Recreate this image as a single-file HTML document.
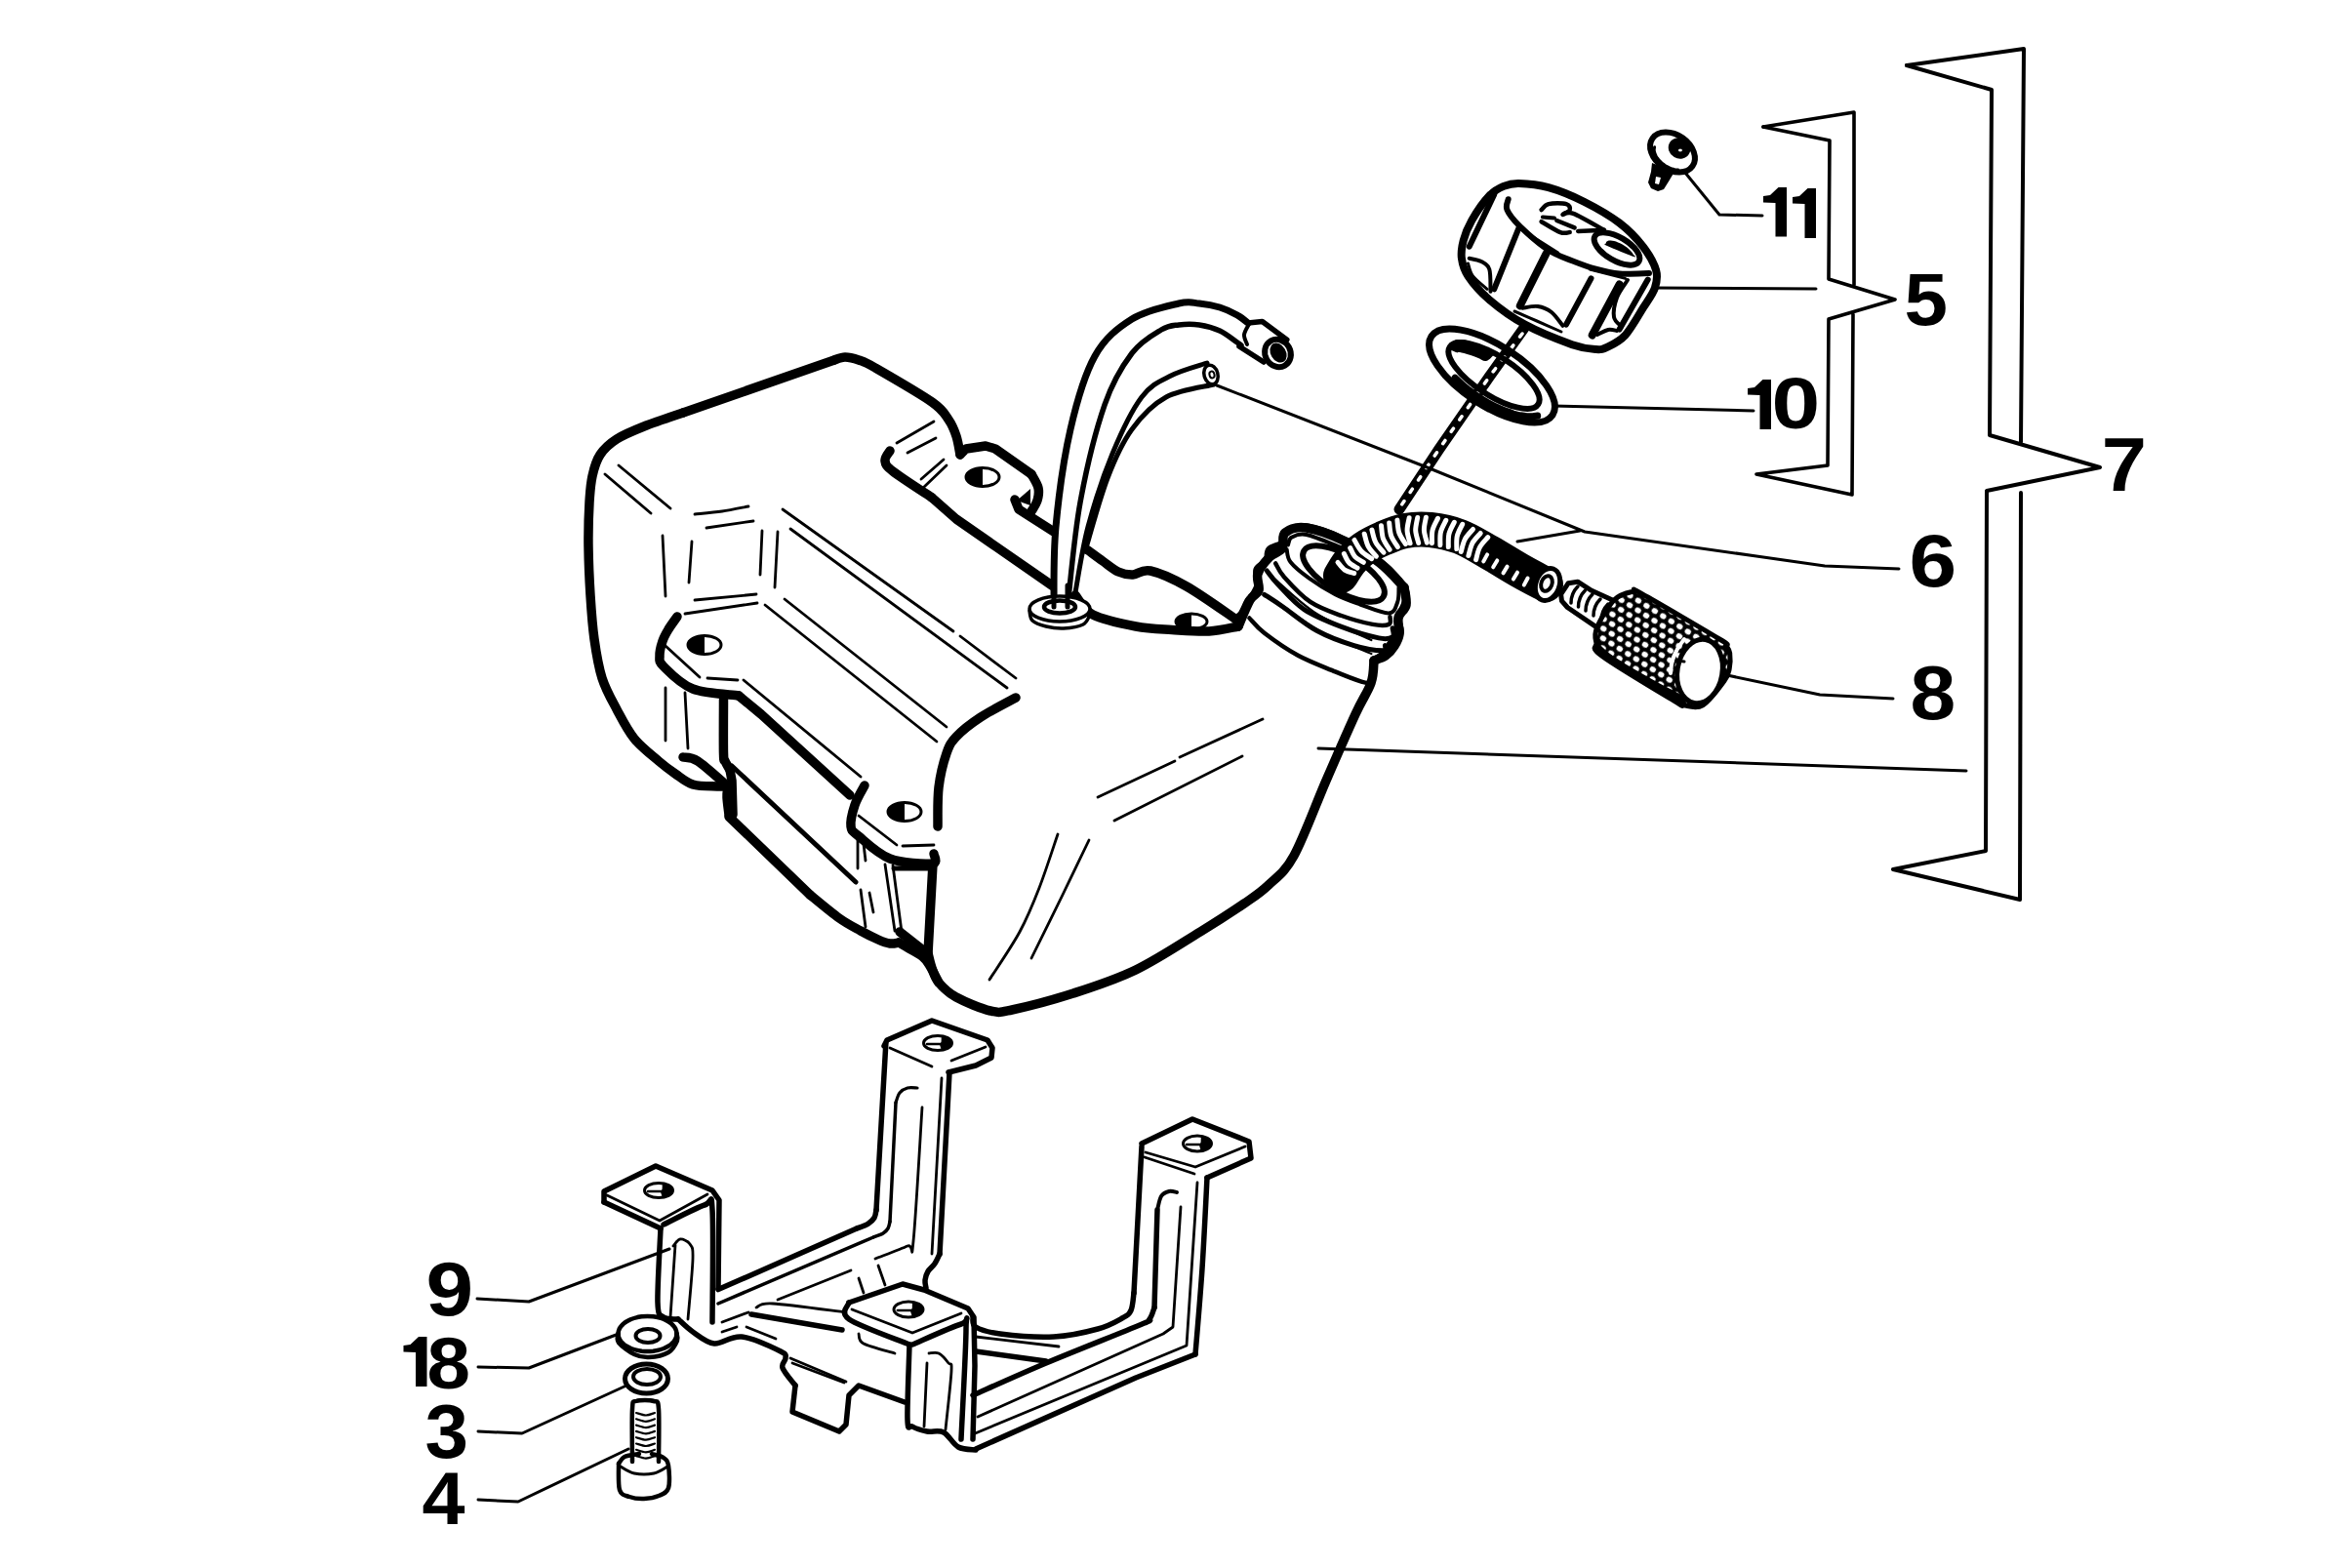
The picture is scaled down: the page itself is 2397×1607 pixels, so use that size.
<!DOCTYPE html>
<html><head><meta charset="utf-8"><style>
html,body{margin:0;padding:0;background:#fff;overflow:hidden}
svg{display:block}
text{font-family:"Liberation Sans",sans-serif;font-weight:bold}
</style></head><body>
<svg width="2397" height="1607" viewBox="0 0 2397 1607">
<defs>
<pattern id="knurl" width="10" height="17.3" patternUnits="userSpaceOnUse" patternTransform="rotate(32)">
<rect width="10" height="17.3" fill="#000"/><ellipse cx="5" cy="4.3" rx="3.3" ry="2.9" fill="#fff"/><ellipse cx="0" cy="13" rx="3.3" ry="2.9" fill="#fff"/><ellipse cx="10" cy="13" rx="3.3" ry="2.9" fill="#fff"/>
</pattern>
</defs>
<rect width="2397" height="1607" fill="#fff"/>
<g stroke="#000" stroke-linecap="round" stroke-linejoin="round" fill="none">
<path d="M746,806C744.2,806 741,806.3 735,806C729,805.7 717.2,806.2 710,804C702.8,801.8 697.8,797 692,793C686.2,789 682,786 675,780C668,774 657.2,765.8 650,757C642.8,748.2 637.5,737.3 632,727C626.5,716.7 620.8,707 617,695C613.2,683 611,669.2 609,655C607,640.8 606,625.8 605,610C604,594.2 603.2,575.8 603,560C602.8,544.2 603.3,527 604,515C604.7,503 605.2,496.2 607,488C608.8,479.8 610.8,472.3 615,466C619.2,459.7 624.5,454.8 632,450C639.5,445.2 648.7,441.5 660,437C671.3,432.5 693.3,425.3 700,423" stroke-width="9.5" fill="none"/>
<path d="M700,423 L855,369" stroke-width="9.5" fill="none"/>
<path d="M855,369C856.8,368.5 861.8,366 866,366C870.2,366 874.8,367.2 880,369C885.2,370.8 884.5,369.8 897,377C909.5,384.2 942.5,403.2 955,412C967.5,420.8 967.8,424.2 972,430C976.2,435.8 978,441 980,447C982,453 983.3,462.8 984,466" stroke-width="9.5" fill="none"/>
<path d="M984,466 L990,460 L1010,457 L1020,460 L1057,486" stroke-width="9.5" fill="none"/>
<path d="M1057,486C1058.2,488.3 1063,495.5 1064,500C1065,504.5 1064.2,509 1063,513C1061.8,517 1058,522.2 1057,524" stroke-width="9.5" fill="none"/>
<path d="M1056,501 L1042,513 L1056,518Z" stroke="none" fill="#000"/>
<path d="M1040,512 L1044,522 L1080,545" stroke-width="9.5" fill="none"/>
<path d="M912,462C911.2,463.7 906.5,468.5 907,472C907.5,475.5 907,476.7 915,483C923,489.3 948.3,505.5 955,510" stroke-width="9.5" fill="none"/>
<path d="M955,510 L980,532 L1078,600" stroke-width="9.5" fill="none"/>
<path d="M919,454 L957,432" stroke-width="2.8" fill="none"/>
<path d="M930,464 L959,449" stroke-width="2.8" fill="none"/>
<path d="M944,491 L967,471" stroke-width="2.8" fill="none"/>
<path d="M947,499 L970,477" stroke-width="2.8" fill="none"/>
<ellipse cx="1007" cy="489" rx="17" ry="9.5" stroke-width="3" fill="none"/>
<path d="M1007,498.5 L1002.6,498.2 L998.5,497.2 L995,495.7 L992.3,493.8 L990.6,491.5 L990,489 L990.6,486.5 L992.3,484.2 L995,482.3 L998.5,480.8 L1002.6,479.8 L1007,479.5Z" stroke="none" fill="#000"/>
<path d="M1115,564C1117.5,565.8 1124.8,571.3 1130,575C1135.2,578.7 1140.8,583.7 1146,586C1151.2,588.3 1155.5,589.2 1161,589C1166.5,588.8 1169.8,583 1179,585C1188.2,587 1201.3,592.7 1216,601C1230.7,609.3 1258.5,629.3 1267,635" stroke-width="9.5" fill="none"/>
<path d="M1102,610C1105,613.3 1109.7,624.7 1120,630C1130.3,635.3 1150.5,639.4 1164,642C1177.5,644.6 1188.5,644.7 1201,645.5C1213.5,646.3 1227.7,647.6 1239,647C1250.3,646.4 1264,642.8 1269,642" stroke-width="9.5" fill="none"/>
<ellipse cx="1221" cy="637" rx="16" ry="8" stroke-width="3" fill="none"/>
<path d="M1221,645 L1216.9,644.7 L1213,643.9 L1209.7,642.7 L1207.1,641 L1205.5,639.1 L1205,637 L1205.5,634.9 L1207.1,633 L1209.7,631.3 L1213,630.1 L1216.9,629.3 L1221,629Z" stroke="none" fill="#000"/>
<path d="M1269,642C1271,637.5 1277.5,621.2 1281,615C1284.5,608.8 1288.7,609.5 1290,605C1291.3,600.5 1287.2,593.7 1289,588C1290.8,582.3 1296.8,575.3 1301,571C1305.2,566.7 1311.3,566.2 1314,562C1316.7,557.8 1312.8,549.5 1317,546C1321.2,542.5 1328.7,539.5 1339,541C1349.3,542.5 1366.5,549 1379,555C1391.5,561 1404,569.2 1414,577C1424,584.8 1434.8,597.8 1439,602" stroke-width="9.5" fill="none"/>
<path d="M1439,602C1439.3,605 1442,614.8 1441,620C1440,625.2 1434.2,628 1433,633C1431.8,638 1434.7,645.2 1434,650C1433.3,654.8 1431.3,658.3 1429,662C1426.7,665.7 1423.5,669.5 1420,672C1416.5,674.5 1410,676.2 1408,677" stroke-width="9.5" fill="none"/>
<path d="M1408,677C1407.5,680.8 1408.2,690.8 1405,700C1401.8,709.2 1396.7,715.3 1389,732C1381.3,748.7 1369.5,775.8 1359,800C1348.5,824.2 1335.8,859.2 1326,877C1316.2,894.8 1308.5,898.8 1300,907C1291.5,915.2 1286.7,918 1275,926C1263.3,934 1248.5,943.7 1230,955C1211.5,966.3 1185.7,983.5 1164,994C1142.3,1004.5 1121.2,1011.2 1100,1018C1078.8,1024.8 1051.2,1032 1037,1035C1022.8,1038 1024.5,1038.2 1015,1036C1005.5,1033.8 988.8,1026.8 980,1022C971.2,1017.2 966.2,1012 962,1007C957.8,1002 956.8,997 955,992C953.2,987 951.7,979.5 951,977" stroke-width="9.5" fill="none"/>
<path d="M746,806C745.8,807.8 744.8,812.2 745,817C745.2,821.8 746.7,832 747,835" stroke-width="9.5" fill="none"/>
<path d="M700,776C702.5,776.7 707.3,775 715,780C722.7,785 740.8,801.7 746,806" stroke-width="9.5" fill="none"/>
<path d="M741.5,717C741.5,726.2 741.2,761.5 741.5,772C741.8,782.5 741.9,777.2 743,780C744.1,782.8 747.2,787.5 748,789" stroke-width="9.5" fill="none"/>
<path d="M748,789 L750,800 L751,835" stroke-width="9.5" fill="none"/>
<path d="M747,837 L830,917" stroke-width="9.5" fill="none"/>
<path d="M830,917C835,921 851.3,934.8 860,941C868.7,947.2 875.3,950.3 882,954C888.7,957.7 895,960.8 900,963C905,965.2 908.5,966.5 912,967C915.5,967.5 919.5,966.2 921,966" stroke-width="9.5" fill="none"/>
<path d="M921,966C922.2,966.7 924,967.7 928,970C932,972.3 940.8,976.7 945,980C949.2,983.3 950.2,985.5 953,990C955.8,994.5 960.5,1004.2 962,1007" stroke-width="9.5" fill="none"/>
<path d="M694,632C692.5,634.2 687.5,640.8 685,645C682.5,649.2 680.5,652.5 679,657C677.5,661.5 675.8,667.7 676,672C676.2,676.3 674.3,677.3 680,683C685.7,688.7 697.2,701 710,706C722.8,711 749.2,711.8 757,713" stroke-width="9.5" fill="none"/>
<path d="M757,713 L780,732 L871,815" stroke-width="9.5" fill="none"/>
<path d="M750,785 L877,904" stroke-width="5" fill="none"/>
<path d="M886,805C884.3,808.3 878.3,818 876,825C873.7,832 871.3,841.7 872,847C872.7,852.3 873.3,851.5 880,857C886.7,862.5 899.5,875.3 912,880C924.5,884.7 947.5,885.8 955,885C962.5,884.2 956.7,876.7 957,875" stroke-width="9.5" fill="none"/>
<path d="M880,836 L919,866" stroke-width="2.8" fill="none"/>
<path d="M925,867 L957,866" stroke-width="2.8" fill="none"/>
<ellipse cx="927" cy="832" rx="17" ry="9.5" stroke-width="3" fill="none"/>
<path d="M927,841.5 L922.6,841.2 L918.5,840.2 L915,838.7 L912.3,836.8 L910.6,834.5 L910,832 L910.6,829.5 L912.3,827.2 L915,825.3 L918.5,823.8 L922.6,822.8 L927,822.5Z" stroke="none" fill="#000"/>
<path d="M956,885 L951,977" stroke-width="9.5" fill="none"/>
<path d="M922,955 L950,977" stroke-width="9.5" fill="none"/>
<path d="M916,890 L955,890" stroke-width="5" fill="none"/>
<path d="M907,886 L917,954" stroke-width="2.8" fill="none"/>
<path d="M915,887 L924,955" stroke-width="2.8" fill="none"/>
<path d="M879,860 L879,890" stroke-width="2.8" fill="none"/>
<path d="M885,865 L887,882" stroke-width="2.8" fill="none"/>
<path d="M882,912 L887,950" stroke-width="2.8" fill="none"/>
<path d="M891,915 L895,935" stroke-width="2.8" fill="none"/>
<path d="M1041,715C1035,718.3 1015.2,728.3 1005,735C994.8,741.7 985.8,748.8 980,755C974.2,761.2 973,763.3 970,772C967,780.7 963.5,794.5 962,807C960.5,819.5 961.2,840.3 961,847" stroke-width="9.5" fill="none"/>
<path d="M802,522 L977,647" stroke-width="2.8" fill="none"/>
<path d="M984,652 L1041,695" stroke-width="2.8" fill="none"/>
<path d="M810,542 L1032,705" stroke-width="2.8" fill="none"/>
<path d="M784,620 L960,760" stroke-width="2.8" fill="none"/>
<path d="M804,614 L970,745" stroke-width="2.8" fill="none"/>
<path d="M762,697 L882,796" stroke-width="2.8" fill="none"/>
<path d="M620,486 L667,526" stroke-width="2.8" fill="none"/>
<path d="M634,477 L687,521" stroke-width="2.8" fill="none"/>
<path d="M712,527C716.7,526.5 730.8,525.3 740,524C749.2,522.7 762.5,519.8 767,519" stroke-width="2.8" fill="none"/>
<path d="M724,541 L772,534" stroke-width="2.8" fill="none"/>
<path d="M679,549 L682,611" stroke-width="2.8" fill="none"/>
<path d="M709,555 L706,597" stroke-width="2.8" fill="none"/>
<path d="M781,544 L779,589" stroke-width="2.8" fill="none"/>
<path d="M797,545 L794,602" stroke-width="2.8" fill="none"/>
<path d="M712,615 L775,609" stroke-width="2.8" fill="none"/>
<path d="M702,629 L776,618" stroke-width="2.8" fill="none"/>
<path d="M682,662 L717,694" stroke-width="2.8" fill="none"/>
<path d="M725,695 L756,697" stroke-width="2.8" fill="none"/>
<ellipse cx="722" cy="661" rx="17" ry="9.5" stroke-width="3" fill="none"/>
<path d="M722,670.5 L717.6,670.2 L713.5,669.2 L710,667.7 L707.3,665.8 L705.6,663.5 L705,661 L705.6,658.5 L707.3,656.2 L710,654.3 L713.5,652.8 L717.6,651.8 L722,651.5Z" stroke="none" fill="#000"/>
<path d="M682,705 L682,759" stroke-width="2.8" fill="none"/>
<path d="M702,710 L705,767" stroke-width="2.8" fill="none"/>
<path d="M1125,817 L1204,780" stroke-width="2.8" fill="none"/>
<path d="M1209,776 L1294,737" stroke-width="2.8" fill="none"/>
<path d="M1142,841 L1273,775" stroke-width="2.8" fill="none"/>
<path d="M1084,855C1080.8,864.2 1071.5,893.3 1065,910C1058.5,926.7 1053.5,939.3 1045,955C1036.5,970.7 1019.2,995.8 1014,1004" stroke-width="2.8" fill="none"/>
<path d="M1116,861C1111.7,870 1099.8,894.8 1090,915C1080.2,935.2 1062.5,970.8 1057,982" stroke-width="2.8" fill="none"/>
<path d="M1080,622C1080.3,608.3 1079.2,570.3 1082,540C1084.8,509.7 1090.3,469.2 1097,440C1103.7,410.8 1111.5,383.8 1122,365C1132.5,346.2 1145.7,336 1160,327C1174.3,318 1196.5,313.7 1208,311C1219.5,308.3 1222,310.3 1229,311C1236,311.7 1243.5,313 1250,315C1256.5,317 1263.2,320.3 1268,323C1272.8,325.7 1277.2,329.7 1279,331" stroke-width="7" fill="none"/>
<path d="M1094,622C1096.2,604.2 1100.7,549.5 1107,515C1113.3,480.5 1123.2,440.5 1132,415C1140.8,389.5 1150.3,374.8 1160,362C1169.7,349.2 1182,342.8 1190,338C1198,333.2 1201.5,333.8 1208,333C1214.5,332.2 1222,332 1229,333C1236,334 1243.5,336 1250,339C1256.5,342 1264.3,348.5 1268,351C1271.7,353.5 1271.3,353.5 1272,354" stroke-width="5.5" fill="none"/>
<path d="M1279,331 L1293.6,329.5 L1318.8,348.2" stroke-width="5.5" fill="none"/>
<path d="M1270,355 L1295,371" stroke-width="5.5" fill="none"/>
<path d="M1280,332C1279.2,333.8 1275.3,339.5 1275,343C1274.7,346.5 1277.5,351.3 1278,353" stroke-width="4" fill="none"/>
<ellipse cx="1309.5" cy="362" rx="13" ry="14.5" transform="rotate(-30 1309.5 362)" stroke-width="6" fill="#fff"/>
<ellipse cx="1310" cy="361.5" rx="7" ry="10" transform="rotate(-30 1310 361.5)" stroke-width="1.5" fill="#000"/>
<path d="M1102,607C1104.2,595.8 1108.7,563.7 1115,540C1121.3,516.3 1130.8,487.2 1140,465C1149.2,442.8 1160,420.3 1170,407C1180,393.7 1188.8,390.8 1200,385C1211.2,379.2 1230.8,374.2 1237,372" stroke-width="5" fill="none"/>
<path d="M1112,565C1115.8,552.5 1127,510.8 1135,490C1143,469.2 1150,453.8 1160,440C1170,426.2 1181,414.7 1195,407C1209,399.3 1235.8,396.2 1244,394" stroke-width="5" fill="none"/>
<ellipse cx="1241" cy="384" rx="7" ry="10" transform="rotate(-15 1241 384)" stroke-width="3.5" fill="#fff"/>
<ellipse cx="1242" cy="384" rx="2.5" ry="3.5" transform="rotate(-15 1242 384)" stroke-width="2" fill="none"/>
<path d="M1055,626C1055.5,627.7 1055.2,633.3 1058,636C1060.8,638.7 1066.7,640.7 1072,642C1077.3,643.3 1083.7,644.3 1090,644C1096.3,643.7 1105.5,642.3 1110,640C1114.5,637.7 1115.8,631.7 1117,630" stroke-width="3.5" fill="none"/>
<ellipse cx="1086" cy="624" rx="31" ry="13" stroke-width="3.5" fill="#fff"/>
<ellipse cx="1086" cy="622" rx="16" ry="6.5" stroke-width="4.5" fill="#fff"/>
<path d="M1080,600 L1080,622" stroke-width="5" fill="none"/>
<path d="M1094,600 L1094,622" stroke-width="5" fill="none"/>
<path d="M1267.7,633.5C1268.5,632.6 1270.9,631.4 1272.8,628.4C1274.7,625.4 1277.4,618.5 1279.1,615.7C1280.8,612.9 1281.3,614.6 1283,611.8C1284.7,609 1288.5,603.8 1289.3,599.1C1290.1,594.4 1286.6,587.8 1288.1,583.8C1289.6,579.8 1296.2,578.2 1298.3,574.8C1300.4,571.4 1298.2,566.4 1300.8,563.4C1303.3,560.4 1311.3,559.4 1313.6,557C1315.9,554.6 1313.5,551.6 1314.8,549.3C1316.1,547 1318.7,544.5 1321.2,543C1323.7,541.5 1326.6,540.8 1330,540.4C1333.4,540 1335.8,539.2 1341.6,540.4C1347.4,541.6 1357.9,544.8 1364.6,547.4C1371.3,550 1379.1,554.6 1382,556" stroke-width="7.5" fill="none"/>
<path d="M1412,574C1414.3,576 1421.4,581.4 1425.8,586C1430.2,590.6 1436,596.9 1438.6,601.6C1441.1,606.3 1441.9,608.9 1441.1,614.4C1440.2,619.9 1434.5,629.1 1433.5,634.8C1432.5,640.5 1436.3,644.5 1434.8,648.8C1433.3,653 1426.4,657.3 1424.5,660.3C1422.6,663.3 1426,663.9 1423.3,666.7C1420.5,669.5 1410.5,675.2 1408,676.9" stroke-width="7.5" fill="none"/>
<path d="M1318.7,563.4C1319.3,565.5 1318.7,571.2 1322.5,576.1C1326.3,581 1333.9,587.2 1341.6,592.7C1349.2,598.2 1359.7,604.8 1368.4,609.3C1377.1,613.8 1384.8,616.3 1393.9,619.5C1403.1,622.7 1416.9,628.8 1423.3,628.4C1429.7,628 1430.5,621.4 1432.2,617C1433.9,612.6 1433.3,604.5 1433.5,602" stroke-width="4" fill="none"/>
<path d="M1320,558.3C1320.6,557 1320.6,552.3 1323.8,550.6C1327,548.9 1330.7,546.3 1339,548C1347.3,549.7 1367.8,558.7 1373.5,560.8" stroke-width="4" fill="none"/>
<path d="M1307.2,577.4C1308.7,579.7 1310.1,584.8 1316.1,591.4C1322,598 1333.1,610.3 1342.9,616.9C1352.7,623.5 1364.2,627.2 1374.8,631C1385.4,634.8 1398.6,638.4 1406.7,639.9C1414.8,641.4 1420.3,641.2 1423.3,639.9C1426.3,638.6 1424.3,633.5 1424.5,632.2" stroke-width="4.5" fill="none"/>
<path d="M1298.3,585C1300.2,587.3 1303.3,592.4 1309.7,599C1316.1,605.6 1325.7,617.4 1336.5,624.6C1347.3,631.8 1362,637.5 1374.8,642.4C1387.5,647.3 1404.3,652.2 1413,653.9C1421.7,655.6 1424.8,654.4 1427.1,652.7C1429.4,651 1427.1,645.2 1427.1,643.7" stroke-width="5" fill="none"/>
<path d="M1306,593C1313.2,599 1332.7,618.5 1349.3,629C1365.9,639.5 1396.1,651.5 1405.4,656" stroke-width="2.2" fill="none"/>
<path d="M1295.7,609.3C1298.9,611.4 1305.9,615.8 1314.8,622C1323.7,628.2 1337.2,639.7 1349.3,646.3C1361.4,652.9 1376.3,658.2 1387.6,661.6C1398.9,665 1411.6,666.7 1416.9,666.7C1422.2,666.7 1419,662.5 1419.4,661.6" stroke-width="5" fill="none"/>
<path d="M1311,619C1318.3,623.8 1339.3,639.5 1355,648C1370.7,656.5 1397,666.3 1405.4,670" stroke-width="2.2" fill="none"/>
<path d="M1280.4,633.5C1283,636 1287.4,642.4 1295.7,648.8C1304,655.2 1318.1,665.2 1330.2,671.8C1342.3,678.4 1357.6,683.9 1368.4,688.4C1379.2,692.9 1389.3,696.7 1395.2,698.6C1401.1,700.5 1402.5,699.8 1404,700" stroke-width="4.5" fill="none"/>
<ellipse cx="1377" cy="588" rx="47" ry="19" transform="rotate(30 1377 588)" stroke-width="6" fill="none"/>
<path d="M1374,590C1375.7,587.5 1380,579.7 1384,575C1388,570.3 1392.5,565.8 1398,562C1403.5,558.2 1410,555 1417,552C1424,549 1431.8,545.5 1440,544C1448.2,542.5 1456.7,542 1466,543C1475.3,544 1486,546.2 1496,550C1506,553.8 1515.7,560.2 1526,566C1536.3,571.8 1548.3,579.5 1558,585C1567.7,590.5 1579.7,596.7 1584,599" stroke-width="36" stroke-linecap="round" fill="none"/>
<path d="M1387.7,587.5C1386,587 1380.7,585.9 1378,584.1C1375.2,582.2 1372.2,577.7 1371,576.4" stroke="#fff" stroke-width="5" stroke-linecap="round" fill="none"/>
<path d="M1391,582.2C1389.5,581.2 1384.6,579 1382.4,576.5C1380.1,574.1 1378.2,569 1377.4,567.5" stroke="#fff" stroke-width="5" stroke-linecap="round" fill="none"/>
<path d="M1397.3,576.3C1395.9,575.3 1391,573.1 1388.7,570.6C1386.4,568.2 1384.6,563.1 1383.7,561.6" stroke="#fff" stroke-width="5" stroke-linecap="round" fill="none"/>
<path d="M1405.7,572.6C1403.9,571.3 1398,567.9 1395,564.7C1392.1,561.6 1389.2,555.4 1388,553.5" stroke="#fff" stroke-width="5" stroke-linecap="round" fill="none"/>
<path d="M1410.4,570.2C1409,568.5 1404.1,563.7 1402.1,559.8C1400.1,556 1398.9,549.3 1398.2,547.2" stroke="#fff" stroke-width="5" stroke-linecap="round" fill="none"/>
<path d="M1418,566.2C1416.6,564.4 1411.8,559.6 1409.8,555.8C1407.7,552 1406.6,545.3 1405.9,543.1" stroke="#fff" stroke-width="5" stroke-linecap="round" fill="none"/>
<path d="M1424.1,563.3C1423,561.4 1418.9,555.9 1417.4,551.8C1416,547.8 1415.9,540.9 1415.5,538.7" stroke="#fff" stroke-width="5" stroke-linecap="round" fill="none"/>
<path d="M1432.3,560.5C1431.1,558.5 1427,553.1 1425.6,549C1424.2,544.9 1424,538.1 1423.7,535.9" stroke="#fff" stroke-width="5" stroke-linecap="round" fill="none"/>
<path d="M1440.4,557.6C1439.3,555.7 1435.2,550.2 1433.8,546.2C1432.4,542.1 1432.2,535.2 1431.9,533.1" stroke="#fff" stroke-width="5" stroke-linecap="round" fill="none"/>
<path d="M1445.1,556.8C1444.6,554.7 1442.3,548.2 1442.1,543.9C1441.9,539.6 1443.8,533 1444.1,530.8" stroke="#fff" stroke-width="5" stroke-linecap="round" fill="none"/>
<path d="M1453.7,556.5C1453.2,554.3 1450.9,547.9 1450.7,543.6C1450.6,539.3 1452.4,532.7 1452.7,530.5" stroke="#fff" stroke-width="5" stroke-linecap="round" fill="none"/>
<path d="M1462.4,556.1C1461.9,554 1459.6,547.6 1459.4,543.3C1459.2,538.9 1461.1,532.3 1461.4,530.2" stroke="#fff" stroke-width="5" stroke-linecap="round" fill="none"/>
<path d="M1467.5,556.7C1467.6,554.5 1467,547.7 1468,543.5C1469,539.2 1472.5,533.4 1473.4,531.4" stroke="#fff" stroke-width="5" stroke-linecap="round" fill="none"/>
<path d="M1475.9,558.7C1476,556.5 1475.4,549.7 1476.4,545.4C1477.4,541.2 1480.9,535.4 1481.8,533.3" stroke="#fff" stroke-width="5" stroke-linecap="round" fill="none"/>
<path d="M1484.3,560.6C1484.4,558.4 1483.9,551.6 1484.9,547.4C1485.8,543.2 1489.4,537.3 1490.3,535.3" stroke="#fff" stroke-width="5" stroke-linecap="round" fill="none"/>
<path d="M1492.8,562.6C1492.9,560.4 1492.3,553.6 1493.3,549.4C1494.3,545.1 1497.8,539.3 1498.7,537.3" stroke="#fff" stroke-width="5" stroke-linecap="round" fill="none"/>
<path d="M1497.3,565.4C1497.9,563.3 1499.2,556.6 1501.2,552.8C1503.2,548.9 1508.1,544.2 1509.5,542.5" stroke="#fff" stroke-width="5" stroke-linecap="round" fill="none"/>
<path d="M1504.9,569.5C1505.6,567.4 1506.8,560.7 1508.8,556.8C1510.9,553 1515.8,548.3 1517.2,546.5" stroke="#fff" stroke-width="5" stroke-linecap="round" fill="none"/>
<path d="M1512.6,573.6C1513.2,571.5 1514.4,564.7 1516.5,560.9C1518.5,557.1 1523.4,552.3 1524.8,550.6" stroke="#fff" stroke-width="5" stroke-linecap="round" fill="none"/>
<path d="M1520.3,575.4 L1524.1,568.4" stroke="#fff" stroke-width="4" fill="none"/>
<path d="M1530.2,581.3 L1534.3,574.4" stroke="#fff" stroke-width="4" fill="none"/>
<path d="M1540.5,587.4 L1544.6,580.6" stroke="#fff" stroke-width="4" fill="none"/>
<path d="M1550.9,593.6 L1555.0,586.7" stroke="#fff" stroke-width="4" fill="none"/>
<path d="M1561.8,599.6 L1565.6,592.5" stroke="#fff" stroke-width="4" fill="none"/>
<ellipse cx="1586" cy="599" rx="17" ry="12" transform="rotate(110 1586 599)" stroke-width="5" fill="#fff"/>
<ellipse cx="1585" cy="598" rx="8" ry="5.5" transform="rotate(110 1585 598)" stroke-width="4" fill="none"/>
<path d="M1562,336 L1527,385 L1475,460 L1434,522" stroke-width="11" fill="none"/>
<path d="M1560,342 L1527,385 L1475,460 L1436,518" stroke="#fff" stroke-width="3.5" stroke-dasharray="4 11" fill="none"/>
<path d="M1599.6,609.1 L1607.2,597.7 L1616.8,596.2 L1631.1,605.3 L1653.1,615.3 L1654,640 L1635.9,642.6 L1606.3,622.5 L1600.5,615.8Z" fill="#fff" stroke-width="5"/>
<path d="M1617,601 Q1610,608 1610,618" stroke-width="3.5" fill="none"/>
<path d="M1624.5,605 Q1617.5,612 1617.5,622" stroke-width="3.5" fill="none"/>
<path d="M1632,609 Q1625,616 1625,626" stroke-width="3.5" fill="none"/>
<path d="M1640,614 Q1633,621 1633,631" stroke-width="3.5" fill="none"/>
<path d="M1648,619 Q1641,626 1641,636" stroke-width="3.5" fill="none"/>
<path d="M1654.1,614.9C1660.2,608.7 1668.4,607.3 1673.2,606.3C1678,605.3 1668,600.6 1682.8,608.7C1697.6,616.8 1747.8,646.2 1762.2,655C1776.6,663.8 1767.2,659.3 1768.9,661.7C1770.7,664.1 1772.2,665.4 1772.7,669.4C1773.2,673.4 1773.2,680.8 1772.2,685.6C1771.2,690.4 1771.4,691.9 1766.9,698.1C1762.4,704.3 1751.8,718.8 1745,722.9C1738.2,727 1730.8,723.7 1725.8,722.9C1720.8,722.1 1729.3,726.6 1715.3,718.2C1701.3,709.8 1654.8,682.2 1641.6,672.3C1628.4,662.4 1636.8,663.7 1635.9,658.9C1635,654.1 1633.4,650.9 1636.4,643.6C1639.4,636.3 1648,621.1 1654.1,614.9Z" fill="url(#knurl)" stroke-width="5"/>
<path d="M1641.6,672.3C1654.5,682 1700.9,709.9 1715.3,718.2C1729.7,726.5 1726.9,723 1728,722C1729.1,721 1726.7,715.7 1722,712C1717.3,708.3 1708.7,704.8 1700,700C1691.3,695.2 1678.3,688 1670,683C1661.7,678 1655.3,673.8 1650,670C1644.7,666.2 1639.4,659.6 1638,660C1636.6,660.4 1628.7,662.6 1641.6,672.3Z" stroke="none" fill="#000"/>
<path d="M1726,655 Q1712,672 1712,690" stroke="#fff" stroke-width="4" fill="none"/>
<ellipse cx="1742" cy="688" rx="33" ry="23" transform="rotate(100 1742 688)" stroke-width="5" fill="#fff"/>
<path d="M1718,677 L1726,678" stroke-width="3" fill="none"/>
<ellipse cx="1529" cy="385" rx="74" ry="31" transform="rotate(33 1529 385)" stroke-width="7" fill="none"/>
<ellipse cx="1531" cy="385" rx="54" ry="20" transform="rotate(33 1531 385)" stroke-width="6" fill="none"/>
<path d="M1485,356C1484.9,353.9 1488.1,349.7 1491.4,348.6C1494.7,347.5 1499.6,348.3 1504.8,349.5C1510,350.7 1518.3,353.6 1522.7,355.7C1527.1,357.8 1531,359.6 1531,362C1531,364.4 1525.9,369.3 1523,370C1520.1,370.7 1517.6,367.7 1513.8,366.4C1510,365.1 1504,362.9 1500.4,362C1496.8,361.1 1494.6,362 1492,361C1489.4,360 1485.1,358.1 1485,356Z" stroke="none" fill="#000"/>
<path d="M1575.7,426.1C1574.8,426.2 1572.5,426.7 1570.7,426.8C1568.8,426.9 1566.8,426.9 1564.8,426.7C1562.7,426.6 1560.4,426.2 1558.1,425.8C1555.8,425.3 1553.4,424.7 1550.9,424C1548.4,423.2 1545.9,422.4 1543.2,421.4C1540.6,420.4 1538,419.2 1535.3,418C1532.6,416.8 1529.9,415.4 1527.3,414C1524.6,412.6 1521.9,411 1519.3,409.4C1516.6,407.8 1514,406 1511.5,404.3C1509,402.5 1506.5,400.6 1504.1,398.8C1501.7,396.9 1499.4,395 1497.3,393C1495.1,391.1 1492.2,388.1 1491.1,387.1" stroke-width="7" fill="none"/>
<path d="M1556.6,187.9C1564.3,188.1 1575.8,189 1586.9,192.1C1598,195.2 1611.2,200.6 1623.3,206.7C1635.4,212.8 1649.5,220.8 1659.6,228.5C1669.7,236.2 1677.5,244.6 1683.8,252.7C1690,260.8 1695.1,269.8 1697.1,276.9C1699.1,284 1698.1,288.6 1695.9,295.1C1693.7,301.6 1688.8,307.6 1683.8,315.7C1678.8,323.8 1671.6,336.9 1665.6,343.5C1659.5,350.1 1652.5,353.2 1647.5,355.6C1642.5,358 1641.5,358.5 1635.4,358.1C1629.3,357.7 1623.2,357.4 1611.1,353.2C1599,348.9 1576.8,340.3 1562.7,332.6C1548.6,324.9 1536,315.5 1526.3,307.2C1516.6,298.9 1509.2,290.1 1504.5,283C1499.8,275.9 1498.7,270.9 1497.9,264.8C1497.1,258.7 1498,253.1 1499.7,246.6C1501.4,240.1 1503.8,233.7 1508.2,226C1512.6,218.3 1520.8,206.4 1526.3,200.6C1531.8,194.8 1535.9,193 1540.9,190.9C1546,188.8 1548.9,187.7 1556.6,187.9Z" stroke-width="8" fill="none"/>
<path d="M1545.7,204.2C1545.5,206 1542.5,210.4 1544.5,215.1C1546.5,219.8 1550.7,225.2 1557.8,232.1C1564.9,239 1578,250.5 1586.9,256.3C1595.8,262.2 1603,264 1611.1,267.2C1619.2,270.4 1627.3,273.5 1635.4,275.7C1643.5,277.9 1650.5,279.8 1659.6,280.5C1668.7,281.2 1684.9,280.1 1690,280" stroke-width="6" fill="none"/>
<path d="M1531.2,199.4 L1505.7,252.7" stroke-width="6" fill="none"/>
<path d="M1556.6,233.3 L1531.2,296.3" stroke-width="6" fill="none"/>
<path d="M1584.5,260 L1557.8,313.3" stroke-width="8" fill="none"/>
<path d="M1630.5,285.4 L1605,332.6" stroke-width="6" fill="none"/>
<path d="M1659.6,291.5 L1631.7,343.5" stroke-width="8" fill="none"/>
<path d="M1688.7,286.6 L1659.6,337.5" stroke-width="6" fill="none"/>
<path d="M1560.3,236 L1596.6,259" stroke-width="3" fill="none"/>
<path d="M1629.3,276 L1665.6,285.4" stroke-width="3" fill="none"/>
<path d="M1505.7,264.8C1507.8,265.3 1514.6,266.1 1518,268C1521.4,269.9 1524.7,270.9 1526.3,276C1527.9,281.1 1527.3,294.9 1527.5,298.7" stroke-width="4" fill="none"/>
<path d="M1504.5,270C1505.3,272.2 1506.2,278.6 1509.4,283C1512.7,287.4 1521.6,294.1 1524,296.3" stroke-width="3" fill="none"/>
<path d="M1560.3,315.7C1562.9,315.4 1571,313.3 1576,314C1581,314.7 1585.8,316.7 1590,320C1594.2,323.3 1599.6,331.5 1601.5,333.8" stroke-width="4" fill="none"/>
<path d="M1552,319C1555.8,320.7 1567,325.5 1575,329C1583,332.5 1595.8,338.2 1600,340" stroke-width="3" fill="none"/>
<path d="M1637,343C1638.8,342.2 1644.7,338.7 1648,338C1651.3,337.3 1655.5,338.8 1657,339" stroke-width="4" fill="none"/>
<path d="M1668,287C1666.2,290 1659.3,298.7 1657,305C1654.7,311.3 1653.2,320 1654,325C1654.8,330 1660.7,333.3 1662,335" stroke-width="4" fill="none"/>
<ellipse cx="1657" cy="255" rx="26" ry="12" transform="rotate(30 1657 255)" stroke-width="6" fill="none"/>
<path d="M1646.5,251.7C1641.8,249.4 1645.9,250.1 1645.8,249.4C1645.8,248.8 1646,248.2 1646.3,247.7C1646.7,247.3 1647.3,246.9 1648,246.7C1648.7,246.5 1649.7,246.4 1650.7,246.5C1651.7,246.5 1652.9,246.7 1654.1,247.1C1655.4,247.4 1656.7,247.8 1658.1,248.4C1659.4,248.9 1660.9,249.6 1662.2,250.3C1663.5,251.1 1664.9,251.9 1666.1,252.8C1667.3,253.6 1668.5,254.6 1669.5,255.5C1670.5,256.4 1671.4,257.4 1672.1,258.3C1672.8,259.1 1673.4,260 1673.7,260.8C1674.1,261.6 1678.7,264.5 1674.2,263C1669.6,261.5 1651.2,253.9 1646.5,251.7Z" stroke="none" fill="#000"/>
<path d="M1579.6,215.1C1580.8,214.1 1582.7,210.1 1586.9,209.1C1591.2,208.1 1601.5,208.1 1605.1,209.1C1608.7,210.1 1609.3,213.3 1608.7,215.1C1608.1,216.9 1600.9,219.4 1601.5,220C1602.1,220.6 1605.2,216.2 1612.3,218.8C1619.3,221.4 1638.5,232.9 1643.8,235.7" stroke-width="4.5" fill="none"/>
<path d="M1580.9,222.4 L1593,223.6" stroke-width="4" fill="none"/>
<path d="M1579.6,227.2C1582.8,229 1594.2,236.3 1599,238.1C1603.8,239.9 1607.1,238.1 1608.7,238.1" stroke-width="4.5" fill="none"/>
<path d="M1595.4,226 L1613.6,233.3" stroke-width="4.5" fill="none"/>
<path d="M1617.2,236.9 L1643.8,235.7" stroke-width="4.5" fill="none"/>
<path d="M1693,167 L1716,176 L1710,186 L1705,194 L1699,196 L1692,193 L1689,187 L1692,176Z" stroke="none" fill="#000"/>
<path d="M1697,181 L1702,182 L1700,189 L1696,188Z" fill="#fff" stroke="none"/>
<ellipse cx="1714" cy="156" rx="25" ry="18" transform="rotate(35 1714 156)" stroke-width="6" fill="#fff"/>
<path d="M1719.9,174.1C1719.3,174.1 1717.5,174 1716.3,173.8C1715.1,173.5 1713.8,173.1 1712.6,172.7C1711.3,172.2 1710,171.6 1708.8,170.9C1707.5,170.3 1706.3,169.5 1705.2,168.6C1704,167.8 1702.9,166.8 1701.9,165.9C1700.9,164.9 1699.9,163.9 1699.1,162.8C1698.3,161.8 1697.6,160.7 1697,159.7C1696.5,158.6 1696,157.5 1695.7,156.5C1695.4,155.5 1695.2,154.4 1695.2,153.5C1695.2,152.5 1695.5,151.3 1695.6,150.8" stroke-width="3" fill="none"/>
<ellipse cx="1721" cy="152" rx="10" ry="9" transform="rotate(30 1721 152)" stroke-width="3" fill="#000"/>
<ellipse cx="1722" cy="154" rx="2.5" ry="2" stroke-width="1" fill="#fff"/>
<path d="M906,1072 L909,1066 L955,1046 L1012,1066 L1017,1074 L1016,1084 L1000,1092 L972,1099" stroke-width="5.5" fill="none"/>
<path d="M912,1074 L955,1093" stroke-width="2.8" fill="none"/>
<path d="M975,1087 L1010,1073" stroke-width="2.8" fill="none"/>
<ellipse cx="961" cy="1069" rx="14.5" ry="7.5" stroke-width="3" fill="none"/>
<path d="M964.8,1061.8 L967.7,1062.3 L970.3,1063.3 L972.5,1064.4 L974.1,1065.8 L975.2,1067.4 L975.5,1069 L975.2,1070.6 L974.1,1072.2 L972.5,1073.6 L970.3,1074.7 L967.7,1075.7 L964.8,1076.2 L963.2,1071.2 L964.6,1067.5Z" stroke="none" fill="#000"/>
<path d="M950.1,1070 L965.4,1070" stroke-width="2.6" fill="none"/>
<path d="M907.8,1070 L898,1240" stroke-width="5.5" fill="none"/>
<path d="M898,1240C897.7,1241.3 897.4,1245.6 896,1248C894.6,1250.4 892.4,1252.5 889.4,1254.3C886.4,1256.1 879.9,1258.2 878,1259" stroke-width="5.5" fill="none"/>
<path d="M878,1259 L736,1321.6" stroke-width="5.5" fill="none"/>
<path d="M973,1099 L963,1285" stroke-width="5.5" fill="none"/>
<path d="M963,1285C962.2,1286.7 960,1292 958,1295C956,1298 952.7,1300.2 951,1303C949.3,1305.8 948.3,1309.2 948,1312C947.7,1314.8 948.8,1318.7 949,1320" stroke-width="5.5" fill="none"/>
<path d="M940,1115C938.3,1115 933,1114.2 930,1115C927,1115.8 924,1117.5 922,1120C920,1122.5 918.7,1128.3 918,1130" stroke-width="3.2" fill="none"/>
<path d="M918,1130 L912,1252" stroke-width="3.5" fill="none"/>
<path d="M912,1252C911.7,1253.2 911.2,1257 910,1259C908.8,1261 907.5,1262.5 905,1264C902.5,1265.5 896.7,1267.3 895,1268" stroke-width="3.5" fill="none"/>
<path d="M895,1268 L736,1336" stroke-width="3.5" fill="none"/>
<path d="M945,1135C943.5,1157.8 938.5,1248.3 936,1272C933.5,1295.7 936.5,1274 930,1277C923.5,1280 902.5,1287.8 897,1290" stroke-width="2.8" fill="none"/>
<path d="M965,1105 L955,1285" stroke-width="2.8" fill="none"/>
<path d="M797,1332 L872,1302" stroke-width="2.8" fill="none"/>
<path d="M870,1335 L925,1316 L947,1322 L992,1341 L998,1350 L999,1400 L997,1475" stroke-width="5.5" fill="none"/>
<path d="M870,1335C870,1337.8 859.7,1344.8 870,1352C880.3,1359.2 921.7,1373.7 932,1378" stroke-width="5.5" fill="none"/>
<path d="M932,1378C931.7,1390.8 929.5,1441 930,1455C930.5,1469 931.7,1460 935,1462C938.3,1464 944.7,1466 950,1467C955.3,1468 961.7,1465.3 967,1468C972.3,1470.7 976.5,1480 982,1483C987.5,1486 997,1485.5 1000,1486" stroke-width="5.5" fill="none"/>
<path d="M873,1342 L935,1366 L985,1346" stroke-width="2.8" fill="none"/>
<path d="M935,1378C943.3,1374.5 975.8,1359.7 985,1357C994.2,1354.3 990,1342.3 990,1362C990,1381.7 985.8,1456.2 985,1475" stroke-width="5.5" fill="none"/>
<path d="M952,1387C953.7,1387 958.7,1385.3 962,1387C965.3,1388.7 969.8,1394 972,1397C974.2,1400 975.5,1393.7 975,1405C974.5,1416.3 970,1455 969,1465" stroke-width="2.8" fill="none"/>
<path d="M950,1397 L947,1462" stroke-width="2.8" fill="none"/>
<ellipse cx="931" cy="1342" rx="15" ry="8" stroke-width="3" fill="none"/>
<path d="M934.9,1334.3 L937.9,1334.9 L940.6,1335.9 L942.9,1337.1 L944.6,1338.6 L945.6,1340.3 L946,1342 L945.6,1343.7 L944.6,1345.4 L942.9,1346.9 L940.6,1348.1 L937.9,1349.1 L934.9,1349.7 L933.2,1344.4 L934.8,1340.4Z" stroke="none" fill="#000"/>
<path d="M919.8,1343 L935.5,1343" stroke-width="2.6" fill="none"/>
<path d="M997,1350C997.5,1351.7 995.3,1357.2 1000,1360C1004.7,1362.8 1011.7,1365.3 1025,1367C1038.3,1368.7 1063.3,1370.8 1080,1370C1096.7,1369.2 1113.3,1365.2 1125,1362C1136.7,1358.8 1144.3,1354.2 1150,1351C1155.7,1347.8 1157,1347.3 1159,1343C1161,1338.7 1161.5,1328 1162,1325" stroke-width="5.5" fill="none"/>
<path d="M1162,1325 L1170,1175" stroke-width="5.5" fill="none"/>
<path d="M1000,1485 L1164,1412 L1225,1388" stroke-width="5.5" fill="none"/>
<path d="M1225,1388C1226.2,1373.3 1230,1330.2 1232,1300C1234,1269.8 1236.2,1222.5 1237,1207" stroke-width="5.5" fill="none"/>
<path d="M997,1430C1009.5,1424.5 1043.5,1409 1072,1397C1100.5,1385 1150.3,1365.5 1168,1358C1185.7,1350.5 1175.5,1355 1178,1352C1180.5,1349 1182.2,1342 1183,1340" stroke-width="5.5" fill="none"/>
<path d="M1183,1340 L1186,1240" stroke-width="5.5" fill="none"/>
<path d="M1186,1240C1186.7,1237.7 1188,1229.2 1190,1226C1192,1222.8 1195.3,1221.7 1198,1221C1200.7,1220.3 1204.7,1221.8 1206,1222" stroke-width="4" fill="none"/>
<path d="M1000,1385 L1072,1395" stroke-width="5.5" fill="none"/>
<path d="M1000,1370 L1085,1380" stroke-width="2.8" fill="none"/>
<path d="M1210,1237 L1202,1360 L1192,1367 L1002,1452" stroke-width="2.8" fill="none"/>
<path d="M1227,1212 L1216,1379 L997,1470" stroke-width="2.8" fill="none"/>
<path d="M1170,1172 L1222,1147 L1280,1170 L1282,1187 L1237,1207" stroke-width="5.5" fill="none"/>
<path d="M1174,1181 L1225,1196 L1276,1175" stroke-width="2.8" fill="none"/>
<path d="M1173,1186 L1224,1203" stroke-width="2.8" fill="none"/>
<ellipse cx="1227" cy="1172" rx="14.5" ry="8" stroke-width="3" fill="none"/>
<path d="M1230.8,1164.3 L1233.7,1164.9 L1236.3,1165.9 L1238.5,1167.1 L1240.1,1168.6 L1241.2,1170.3 L1241.5,1172 L1241.2,1173.7 L1240.1,1175.4 L1238.5,1176.9 L1236.3,1178.1 L1233.7,1179.1 L1230.8,1179.7 L1229.2,1174.4 L1230.6,1170.4Z" stroke="none" fill="#000"/>
<path d="M1216.1,1173 L1231.3,1173" stroke-width="2.6" fill="none"/>
<path d="M619,1232 L619,1221 L672,1195 L730,1220 L737,1230 L736,1320" stroke-width="5.5" fill="none"/>
<path d="M619,1232 L677,1259" stroke-width="5.5" fill="none"/>
<path d="M622,1225 L676,1251 L725,1224" stroke-width="2.8" fill="none"/>
<ellipse cx="675" cy="1220" rx="14.5" ry="7.5" stroke-width="3" fill="none"/>
<path d="M678.8,1212.8 L681.7,1213.3 L684.3,1214.3 L686.5,1215.4 L688.1,1216.8 L689.2,1218.4 L689.5,1220 L689.2,1221.6 L688.1,1223.2 L686.5,1224.6 L684.3,1225.7 L681.7,1226.7 L678.8,1227.2 L677.2,1222.2 L678.6,1218.5Z" stroke="none" fill="#000"/>
<path d="M664.1,1221 L679.4,1221" stroke-width="2.6" fill="none"/>
<path d="M677,1259C676.5,1271.7 673.5,1319.8 674,1335C674.5,1350.2 676.5,1347.2 680,1350C683.5,1352.8 692.5,1351.7 695,1352" stroke-width="5.5" fill="none"/>
<path d="M680,1255C687,1251.7 713.7,1237.5 722,1235C730.3,1232.5 728.7,1220 730,1240C731.3,1260 730,1335.8 730,1355" stroke-width="5.5" fill="none"/>
<path d="M690,1277C691.2,1275.8 694.2,1270.3 697,1270C699.8,1269.7 704.8,1271.7 707,1275C709.2,1278.3 710.3,1277.2 710,1290C709.7,1302.8 705.8,1341.7 705,1352" stroke-width="2.8" fill="none"/>
<path d="M692,1276 L687,1350" stroke-width="2.8" fill="none"/>
<path d="M695,1352C697.5,1354.2 703.8,1360.8 710,1365C716.2,1369.2 723.7,1376.2 732,1377C740.3,1377.8 748.7,1368.7 760,1370C771.3,1371.3 792.5,1381.3 800,1385C807.5,1388.7 804.7,1389.2 805,1392C805.3,1394.8 800.3,1397.3 802,1402C803.7,1406.7 812.8,1417 815,1420" stroke-width="5.5" fill="none"/>
<path d="M815,1420 L812,1447 L860,1467 L867,1460 L870,1430 L880,1420 L927,1437" stroke-width="5.5" fill="none"/>
<path d="M880,1367C880.8,1368.7 878.8,1373.7 885,1377C891.2,1380.3 911.7,1385.3 917,1387" stroke-width="2.8" fill="none"/>
<path d="M775,1340C777.8,1339.3 776.7,1335.2 792,1336C807.3,1336.8 854.5,1343.5 867,1345" stroke-width="2.8" fill="none"/>
<path d="M770,1347 L863,1363" stroke-width="5.5" fill="none"/>
<path d="M740,1355 L767,1345" stroke-width="2.8" fill="none"/>
<path d="M740,1365 L755,1360" stroke-width="2.8" fill="none"/>
<path d="M765,1360 L795,1372" stroke-width="2.8" fill="none"/>
<path d="M810,1392 L867,1416" stroke-width="2.8" fill="none"/>
<path d="M812,1397 L865,1417" stroke-width="2.8" fill="none"/>
<path d="M880,1310 L885,1325" stroke-width="2.8" fill="none"/>
<path d="M900,1297 L907,1317" stroke-width="2.8" fill="none"/>
<path d="M693.5,1367C693.4,1367.6 693.3,1369.4 692.9,1370.5C692.5,1371.7 692,1372.8 691.2,1373.9C690.5,1375 689.5,1376 688.4,1377C687.4,1378 686.1,1378.9 684.7,1379.7C683.3,1380.6 681.8,1381.3 680.2,1382C678.5,1382.6 676.8,1383.2 675,1383.6C673.2,1384.1 671.3,1384.4 669.4,1384.7C667.4,1384.9 665.5,1385 663.5,1385C661.5,1385 659.6,1384.9 657.6,1384.7C655.7,1384.4 653.8,1384.1 652,1383.6C650.2,1383.2 648.5,1382.6 646.8,1382C645.2,1381.3 643.7,1380.6 642.3,1379.7C640.9,1378.9 639.6,1378 638.6,1377C637.5,1376 636.5,1375 635.8,1373.9C635,1372.8 634.5,1371.7 634.1,1370.5C633.7,1369.4 633.6,1367.6 633.5,1367" stroke-width="4.5" fill="none"/>
<path d="M633.5,1367C633.6,1368.5 631.2,1372.5 634,1376C636.8,1379.5 644.8,1385.5 650,1388C655.2,1390.5 659.2,1391.3 665,1391C670.8,1390.7 680.2,1388.8 685,1386C689.8,1383.2 692.6,1377.2 694,1374C695.4,1370.8 693.6,1368.2 693.5,1367" stroke-width="4.5" fill="none"/>
<path d="M633.5,1367C633.6,1366.4 633.7,1364.6 634.1,1363.5C634.5,1362.3 635,1361.2 635.8,1360.1C636.5,1359 637.5,1358 638.6,1357C639.6,1356 640.9,1355.1 642.3,1354.3C643.7,1353.4 645.2,1352.7 646.8,1352C648.5,1351.4 650.2,1350.8 652,1350.4C653.8,1349.9 655.7,1349.6 657.6,1349.3C659.6,1349.1 661.5,1349 663.5,1349C665.5,1349 667.4,1349.1 669.4,1349.3C671.3,1349.6 673.2,1349.9 675,1350.4C676.8,1350.8 678.5,1351.4 680.2,1352C681.8,1352.7 683.3,1353.4 684.7,1354.3C686.1,1355.1 687.4,1356 688.4,1357C689.5,1358 690.5,1359 691.2,1360.1C692,1361.2 692.5,1362.3 692.9,1363.5C693.3,1364.6 693.4,1366.4 693.5,1367" stroke-width="4.5" fill="none"/>
<ellipse cx="664" cy="1369" rx="12.5" ry="7" stroke-width="4" fill="none"/>
<ellipse cx="662.5" cy="1413" rx="22" ry="15" stroke-width="5" fill="none"/>
<ellipse cx="663" cy="1411" rx="14" ry="8" stroke-width="4" fill="none"/>
<path d="M648,1498C648,1489 647.3,1454.3 648,1444C648.7,1433.7 648.3,1437.3 652,1436C655.7,1434.7 666.2,1434.7 670,1436C673.8,1437.3 674.2,1433.7 675,1444C675.8,1454.3 675,1489 675,1498" stroke-width="4.5" fill="none"/>
<path d="M652,1448C653.7,1448.4 658.8,1450.5 662,1450.5C665.2,1450.5 669.5,1448.4 671,1448" stroke-width="2.2" fill="none"/>
<path d="M652,1454.3C653.7,1454.7 658.8,1456.8 662,1456.8C665.2,1456.8 669.5,1454.7 671,1454.3" stroke-width="2.2" fill="none"/>
<path d="M652,1460.6C653.7,1461 658.8,1463.1 662,1463.1C665.2,1463.1 669.5,1461 671,1460.6" stroke-width="2.2" fill="none"/>
<path d="M652,1466.9C653.7,1467.3 658.8,1469.4 662,1469.4C665.2,1469.4 669.5,1467.3 671,1466.9" stroke-width="2.2" fill="none"/>
<path d="M652,1473.2C653.7,1473.6 658.8,1475.7 662,1475.7C665.2,1475.7 669.5,1473.6 671,1473.2" stroke-width="2.2" fill="none"/>
<path d="M652,1479.5C653.7,1479.9 658.8,1482 662,1482C665.2,1482 669.5,1479.9 671,1479.5" stroke-width="2.2" fill="none"/>
<path d="M652,1485.8C653.7,1486.2 658.8,1488.3 662,1488.3C665.2,1488.3 669.5,1486.2 671,1485.8" stroke-width="2.2" fill="none"/>
<path d="M652,1492.1C653.7,1492.5 658.8,1494.6 662,1494.6C665.2,1494.6 669.5,1492.5 671,1492.1" stroke-width="2.2" fill="none"/>
<path d="M634,1500C635,1498.8 636.5,1494.7 640,1493C643.5,1491.3 652.5,1490.5 655,1490" stroke-width="4.5" fill="none"/>
<path d="M668,1490C670,1490.7 677.2,1492 680,1494C682.8,1496 684.2,1496.8 685,1502C685.8,1507.2 686.7,1519.8 685,1525C683.3,1530.2 679.2,1531.2 675,1533C670.8,1534.8 665,1535.8 660,1536C655,1536.2 649.2,1535.5 645,1534C640.8,1532.5 636.8,1532.7 635,1527C633.2,1521.3 634.2,1504.5 634,1500" stroke-width="4.5" fill="none"/>
<path d="M636,1503C638.3,1504.2 644.3,1508.8 650,1510C655.7,1511.2 664.3,1511.2 670,1510C675.7,1508.8 681.7,1504.2 684,1503" stroke-width="3" fill="none"/>
<path d="M1807,130 L1900,115 L1900,292" stroke-width="3.6" fill="none"/>
<path d="M1807,130 L1875,144 L1874,286 L1942,307 L1874,327 L1873,477 L1800,486 L1898,507 L1899,322" stroke-width="3.6" fill="none"/>
<path d="M1954,67 L2074,50 L2071,453" stroke-width="4" fill="none"/>
<path d="M1954,67 L2041,92 L2039,446 L2152,479 L2036,503 L2035,872 L1940,891 L2070,922 L2071,505" stroke-width="4" fill="none"/>
<path d="M1727,177 L1762,220 L1806,221" stroke-width="3" fill="none"/>
<path d="M1695,295 L1861,296" stroke-width="3" fill="none"/>
<path d="M1592,416 L1797,421" stroke-width="3" fill="none"/>
<path d="M1247,395 L1465,480 L1624,545 L1800,570 L1870,580 L1946,583" stroke-width="3" fill="none"/>
<path d="M1555,555 L1619,544" stroke-width="3" fill="none"/>
<path d="M1770,692 L1865,712 L1940,716" stroke-width="3" fill="none"/>
<path d="M1351,767 L2015,790" stroke-width="3" fill="none"/>
<path d="M489,1331 L542,1334 L686,1280" stroke-width="3" fill="none"/>
<path d="M490,1401 L542,1402 L634,1367" stroke-width="3" fill="none"/>
<path d="M490,1467 L535,1469 L642,1420" stroke-width="3" fill="none"/>
<path d="M490,1537 L531,1539 L644,1485" stroke-width="3" fill="none"/>
<path d="M1822.5,192 L1831,192 L1831,242.5 L1819.5,242.5 L1819.5,208 L1807,207.5 L1807,201 L1814,200Z" stroke="none" fill="#000"/>
<path d="M1852.5,193 L1861,193 L1861,244 L1849.5,244 L1849.5,209 L1837,208.5 L1837,202 L1844,201Z" stroke="none" fill="#000"/>
<text transform="matrix(0.8000 0 0 0.7571 1951.60 333.24)" font-size="100" fill="#000" stroke="none">5</text>
<path d="M1806.5,389 L1815,389 L1815,440 L1803.5,440 L1803.5,405 L1791,404.5 L1791,398 L1798,397Z" stroke="none" fill="#000"/>
<text transform="matrix(0.8936 0 0 0.7394 1815.43 439.26)" font-size="100" fill="#000" stroke="none">0</text>
<text transform="matrix(0.8298 0 0 0.7794 2153.68 502.78)" font-size="100" fill="#000" stroke="none">7</text>
<text transform="matrix(0.8750 0 0 0.7606 1956.50 601.24)" font-size="100" fill="#000" stroke="none">6</text>
<text transform="matrix(0.8400 0 0 0.7746 1957.48 737.23)" font-size="100" fill="#000" stroke="none">8</text>
<text transform="matrix(0.8750 0 0 0.7746 436.50 1348.23)" font-size="100" fill="#000" stroke="none">9</text>
<path d="M429,1370 L437.5,1370 L437.5,1421 L426,1421 L426,1386 L413.5,1385.5 L413.5,1379 L420.5,1378Z" stroke="none" fill="#000"/>
<text transform="matrix(0.8000 0 0 0.7465 437.60 1423.25)" font-size="100" fill="#000" stroke="none">8</text>
<text transform="matrix(0.8000 0 0 0.7746 435.40 1494.23)" font-size="100" fill="#000" stroke="none">3</text>
<text transform="matrix(0.7925 0 0 0.7536 432.42 1562.00)" font-size="100" fill="#000" stroke="none">4</text>
</g>
</svg>
</body></html>
